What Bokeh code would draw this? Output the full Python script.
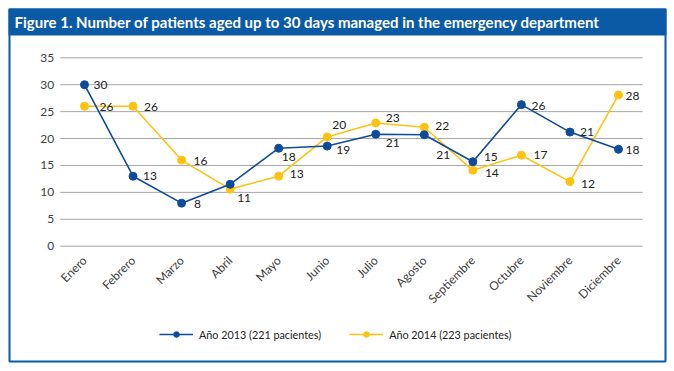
from math import pi
from bokeh.plotting import figure
from bokeh.models import (ColumnDataSource, LabelSet, Legend, LegendItem, BoxAnnotation,
                          Label, Range1d)
from bokeh.core.properties import value
from bokeh.embed import file_html
from bokeh.resources import INLINE

title_text = "Figure 1. Number of patients aged up to 30 days managed in the emergency department"
months = ["Enero", "Febrero", "Marzo", "Abril", "Mayo", "Junio", "Julio", "Agosto",
          "Septiembre", "Octubre", "Noviembre", "Diciembre"]
v2013 = [30, 13, 8, 11.5, 18.2, 18.6, 20.8, 20.7, 15.7, 26.3, 21.2, 18.0]
v2014 = [26, 26, 16, 10.6, 13, 20.3, 22.9, 22.1, 14.1, 16.9, 12, 28.1]
lab2013 = ["30", "13", "8", "", "18", "19", "21", "21", "15", "26", "21", "18"]
lab2014 = ["26", "26", "16", "11", "13", "20", "23", "22", "14", "17", "12", "28"]
name2013 = "Año 2013 (221 pacientes)"
name2014 = "Año 2014 (223 pacientes)"
yticks = [0, 5, 10, 15, 20, 25, 30, 35]

# label placement (pixels, style only)
dx2013 = [16, 17, 16, 0, 10, 16, 17, 19, 18, 17, 17, 14]
dy2013 = [0, 0, -1, 0, -9, -4, -9, -20, 5, -1, 0, -1]
dx2014 = [22, 18, 19, 14, 18, 12, 17, 18, 19, 19, 18, 14]
dy2014 = [-1, -1, -1, -9, 2, 12, 5, 1, -3, 0, -2, -1]

BLUE = "#0e4c9b"
YELLOW = "#ffc20e"
BAR = "#0b5aa6"
FONT = "Lato"

idx = list(range(len(months)))

W, H = 674, 371
p = figure(width=W, height=H, x_range=Range1d(-1.7303, 12.154), y_range=Range1d(-23.28, 45.645),
           output_backend="svg", toolbar_location=None,
           min_border=0, min_border_left=0, min_border_right=0, min_border_top=0,
           min_border_bottom=0)
p.outline_line_color = None
p.xgrid.grid_line_color = None
p.ygrid.grid_line_color = None
p.background_fill_color = "white"
p.border_fill_color = "white"

# horizontal grid lines spanning the category band
gsrc = ColumnDataSource(dict(y=yticks, x0=[-0.5] * len(yticks), x1=[len(months) - 0.5] * len(yticks)))
p.segment(x0="x0", x1="x1", y0="y", y1="y", source=gsrc, line_color="#a6a6a6", line_width=1)

p.yaxis.ticker = yticks
p.yaxis.fixed_location = -0.5
p.xaxis.ticker = idx
p.xaxis.major_label_overrides = {i: m for i, m in zip(idx, months)}
p.xaxis.fixed_location = 0
for ax in (p.xaxis[0], p.yaxis[0]):
    ax.axis_line_color = None
    ax.major_tick_line_color = None
    ax.minor_tick_line_color = None
    ax.major_tick_out = 0
    ax.major_tick_in = 0
    ax.major_label_text_font = FONT
    ax.major_label_text_font_size = "12px"
    ax.major_label_text_color = "#404040"
p.yaxis.major_label_standoff = 6
p.xaxis.major_label_orientation = pi / 4
p.xaxis.major_label_standoff = 12

s13 = ColumnDataSource(dict(x=idx, y=v2013, t=lab2013, dx=dx2013, dy=dy2013))
s14 = ColumnDataSource(dict(x=idx, y=v2014, t=lab2014, dx=dx2014, dy=dy2014))

l14 = p.line("x", "y", source=s14, line_color=YELLOW, line_width=1.6)
c14 = p.scatter("x", "y", source=s14, size=8, fill_color=YELLOW, line_color=YELLOW)
l13 = p.line("x", "y", source=s13, line_color=BLUE, line_width=1.6)
c13 = p.scatter("x", "y", source=s13, size=8, fill_color=BLUE, line_color=BLUE)

for s in (s13, s14):
    p.add_layout(LabelSet(x="x", y="y", text="t", source=s, x_offset="dx", y_offset="dy",
                          text_align="center", text_baseline="middle",
                          text_font=value(FONT), text_font_size="12px", text_color="#222222"))

legend = Legend(items=[LegendItem(label=name2013, renderers=[l13, c13]),
                       LegendItem(label=name2014, renderers=[l14, c14])],
                location=(159, 30), orientation="horizontal", padding=0, margin=0,
                spacing=28, glyph_width=34, glyph_height=14, label_standoff=6,
                label_height=14,
                label_text_font=FONT, label_text_font_size="10.8px", label_text_color="#222222",
                border_line_color=None, background_fill_alpha=0)
p.add_layout(legend, "center")

# frame decoration
p.add_layout(BoxAnnotation(left=8, right=666, top=8, bottom=35, left_units="canvas",
                           right_units="canvas", top_units="canvas", bottom_units="canvas",
                           fill_color=BAR, fill_alpha=1, line_color=None))
p.add_layout(BoxAnnotation(left=9, right=665, top=9, bottom=361, left_units="canvas",
                           right_units="canvas", top_units="canvas", bottom_units="canvas",
                           fill_alpha=0, line_color=BAR, line_width=2, line_alpha=1))
p.add_layout(Label(x=14, y=21.5, x_units="canvas", y_units="canvas", text=title_text,
                   text_font=FONT, text_font_style="bold", text_font_size="15px",
                   text_color="white", text_baseline="middle"))

open("out.html", "w").write(file_html(p, INLINE))
